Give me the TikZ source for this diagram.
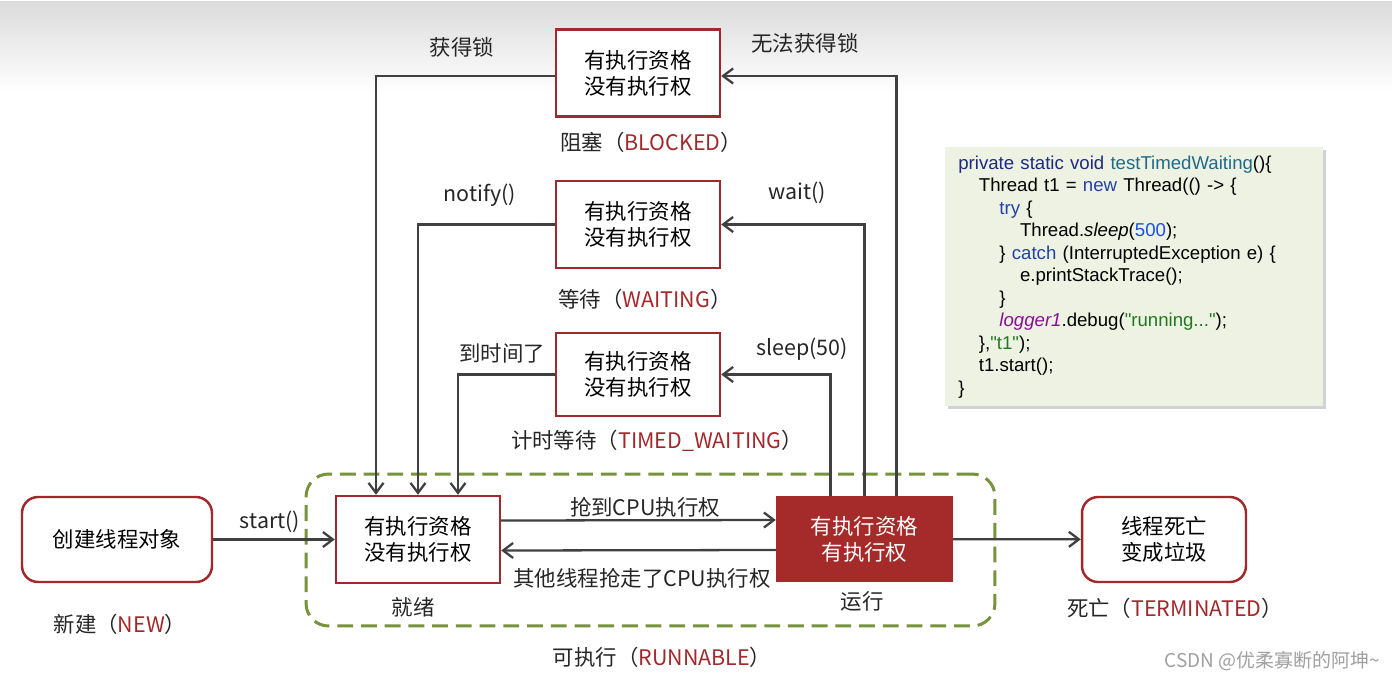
\documentclass[tikz,border=0pt]{standalone}
\usepackage{fontspec}
\setmainfont{Noto Sans CJK SC}
\newfontfamily\codefont{Liberation Sans}
\usepackage{tikz}
\usetikzlibrary{positioning,arrows.meta,shadows,calc}
\definecolor{ink}        {HTML}{404040}
\definecolor{brick}      {HTML}{A52A2A}
\definecolor{rim}        {HTML}{A3282C}
\definecolor{olive}      {HTML}{77933C}
\definecolor{codebg}     {HTML}{EEF2E3}
\definecolor{kwnavy}     {HTML}{1C2A80}
\definecolor{kwblue}     {HTML}{2141A8}
\definecolor{numblue}    {HTML}{1750EB}
\definecolor{fnteal}     {HTML}{1E6B8A}
\definecolor{strgreen}   {HTML}{1F7A1F}
\definecolor{fieldpurple}{HTML}{871094}
\definecolor{wmgray}     {HTML}{A0A0A0}
\tikzset{
  % --- nodes
  state/.style  = {draw=rim, line width=1.4pt, fill=white, align=center,
                   minimum width=3.28cm, minimum height=1.74cm, inner sep=2pt,
                   font=\fontsize{12.2}{14.7}\selectfont},
  endpt/.style  = {state, rounded corners=0.32cm},
  busy/.style   = {state, draw=brick, fill=brick, text=white},
  lbl/.style    = {font=\fontsize{12.2}{14}\selectfont, text=black!85, inner sep=1pt},
  wm/.style     = {font=\fontsize{10.8}{12}\selectfont, text=wmgray, inner sep=0pt},
  runbox/.style = {draw=olive, line width=1.7pt, dash pattern=on 9pt off 4.5pt,
                   rounded corners=0.45cm, minimum width=13.78cm, minimum height=3.04cm},
  codebox/.style= {fill=codebg, anchor=north west, align=left, text width=7.04cm,
                   inner xsep=0.26cm, inner ysep=0pt, minimum width=7.56cm,
                   minimum height=5.18cm,
                   drop shadow={shadow xshift=1.6pt, shadow yshift=-1.6pt, opacity=.35},
                   font=\codefont\fontsize{10.6}{12.8}\selectfont},
  % --- edges
  e/.style      = {-{Straight Barb[length=2mm,width=3mm]}, line width=1.3pt, draw=ink},
}
\newcommand{\statename}[1]{\textcolor{rim}{#1}}
\newlength{\codeindent}
\setlength{\codeindent}{11.7pt}

\begin{document}
\begin{tikzpicture}[x=0.02cm, y=-0.02cm]
  \useasboundingbox (0,0) rectangle (1392,679);
  \fill[white] (0,0) rectangle (1392,679);
  \fill[top color=black!14, bottom color=white] (0,2) rectangle (1392,92);

  % states
  \node[endpt] (new)     at (117,539.5) [minimum width=3.8cm, minimum height=1.7cm] {创建线程对象};
  \node[state] (ready)   at (418,539.5) {有执行资格\\没有执行权};
  \node[busy]  (run)     at (864.5,539) [minimum width=3.5cm, minimum height=1.66cm] {有执行资格\\有执行权};
  \node[endpt] (term)    at (1164,539.5) [minimum height=1.7cm] {线程死亡\\变成垃圾};
  \node[state] (blocked) at (638,73) {有执行资格\\没有执行权};
  \node[state] (waiting) at (638,224.5) {有执行资格\\没有执行权};
  \node[state] (timed)   at (638,374.5) [minimum height=1.66cm] {有执行资格\\没有执行权};

  \node[runbox] (runnable) at (650.5,550) {};

  % state names
  \node[lbl] (newlbl)      at (120,624)  {新建（\statename{NEW}）};
  \node[lbl] (readylbl)    at (413,607)  {就绪};
  \node[lbl] (runlbl)      at (862,601)  {运行};
  \node[lbl] (termlbl)     at (1175,608) {死亡（\statename{TERMINATED}）};
  \node[lbl] (runnablelbl) at (662,657)  {可执行（\statename{RUNNABLE}）};
  \node[lbl] (blockedlbl)  at (651,142)  {阻塞（\statename{BLOCKED}）};
  \node[lbl] (waitlbl)     at (645,299)  {等待（\statename{WAITING}）};
  \node[lbl] (timedlbl)    at (657,441)  {计时等待（\statename{TIMED\_WAITING}）};

  % transitions
  \draw[e] (new) -- (ready);
  \draw[e] ([yshift=0.38cm]ready.east) -- ([yshift=0.38cm]run.west);
  \draw[e] ([yshift=-0.22cm]run.west) -- ([yshift=-0.22cm]ready.east);
  \draw[e] (run) -- (term);
  \draw[e] ([yshift=-0.06cm]blocked.west) -| ([xshift=-0.84cm]ready.north);
  \draw[e] ([xshift=0.64cm]run.north) |- ([yshift=-0.06cm]blocked.east);
  \draw[e] (waiting.west) -| (ready.north);
  \draw[e] (run.north) |- (waiting.east);
  \draw[e] (timed.west) -| ([xshift=0.8cm]ready.north);
  \draw[e] ([xshift=-0.68cm]run.north) |- (timed.east);

  % transition labels
  \node[lbl] (lstart)   at (270,522) {start()};
  \node[lbl] (lgrab)    at (645,507) {抢到CPU执行权};
  \node[lbl] (llose)    at (642,578) {其他线程抢走了CPU执行权};
  \node[lbl] (lgetlock) at (462,47)  {获得锁};
  \node[lbl] (lnolock)  at (805,43)  {无法获得锁};
  \node[lbl] (lnotify)  at (480,195) {notify()};
  \node[lbl] (lwait)    at (797,193) {wait()};
  \node[lbl] (ltimeup)  at (502,353) {到时间了};
  \node[lbl] (lsleep)   at (802,349) {sleep(50)};

  % sample code
  \node[codebox] (code) at (945,147) {%
    \textcolor{kwnavy}{private static void} \textcolor{fnteal}{testTimedWaiting}()\{\\
    \hspace*{\codeindent}Thread t1 = \textcolor{kwblue}{new} Thread(() -> \{\\
    \hspace*{2\codeindent}\textcolor{kwblue}{try} \{\\
    \hspace*{3\codeindent}Thread.\textit{sleep}(\textcolor{numblue}{500});\\
    \hspace*{2\codeindent}\} \textcolor{kwblue}{catch} (InterruptedException e) \{\\
    \hspace*{3\codeindent}e.printStackTrace();\\
    \hspace*{2\codeindent}\}\\
    \hspace*{2\codeindent}\textcolor{fieldpurple}{\textit{logger1}}.debug(\textcolor{strgreen}{"running..."});\\
    \hspace*{\codeindent}\},\textcolor{strgreen}{"t1"});\\
    \hspace*{\codeindent}t1.start();\\
    \}};

  \node[wm, anchor=east] (credit) at (1380,661) {CSDN @优柔寡断的阿坤\textasciitilde};
\end{tikzpicture}
\end{document}
